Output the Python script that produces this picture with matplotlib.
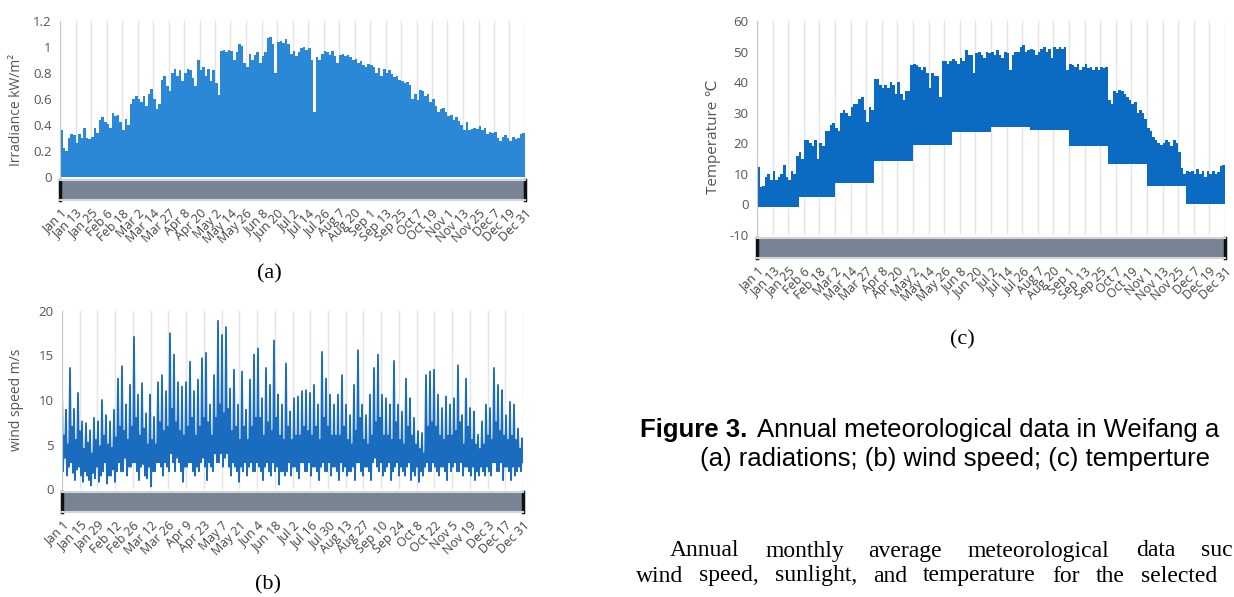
import numpy as np
import matplotlib.pyplot as plt

W, H = 1234, 597

# ---- data ----
# daily peak irradiance (kW/m2), one value every ~2 days
irradiance = [0.36, 0.22, 0.2, 0.3, 0.33, 0.32, 0.26, 0.33, 0.3, 0.38,
              0.3, 0.29, 0.31, 0.38, 0.34, 0.44, 0.46, 0.42, 0.41, 0.38,
              0.49, 0.47, 0.48, 0.42, 0.36, 0.45, 0.4, 0.56, 0.6, 0.62,
              0.6, 0.58, 0.62, 0.55, 0.64, 0.68, 0.6, 0.52, 0.56, 0.75,
              0.78, 0.7, 0.66, 0.8, 0.83, 0.78, 0.82, 0.74, 0.8, 0.83,
              0.82, 0.76, 0.7, 0.9, 0.82, 0.85, 0.78, 0.83, 0.74, 0.82,
              0.72, 0.63, 0.97, 0.98, 0.96, 0.98, 0.97, 0.9, 0.96, 1.02,
              1.01, 0.88, 0.85, 0.95, 0.9, 0.94, 0.96, 0.88, 0.93, 0.96,
              1.07, 1.08, 1.02, 0.8, 1.04, 1.05, 1.03, 1.06, 1.02, 0.95,
              0.97, 0.93, 0.96, 0.99, 1.0, 0.98, 0.99, 0.9, 0.5, 0.92,
              0.9, 0.95, 0.97, 0.96, 0.94, 0.97, 0.93, 0.88, 0.94, 0.95,
              0.93, 0.94, 0.92, 0.9, 0.91, 0.88, 0.89, 0.86, 0.85, 0.87,
              0.86, 0.85, 0.8, 0.84, 0.78, 0.83, 0.8, 0.82, 0.79, 0.77,
              0.78, 0.75, 0.74, 0.72, 0.73, 0.71, 0.6, 0.64, 0.59, 0.67,
              0.66, 0.62, 0.64, 0.58, 0.6, 0.55, 0.5, 0.52, 0.53, 0.5,
              0.47, 0.48, 0.44, 0.46, 0.43, 0.4, 0.36, 0.42, 0.36, 0.37,
              0.38, 0.37, 0.39, 0.36, 0.38, 0.33, 0.35, 0.34, 0.35, 0.3,
              0.28, 0.31, 0.32, 0.3, 0.28, 0.31, 0.29, 0.3, 0.33, 0.34]

# wind speed (m/s), gusts and lulls in order through the year
wind = [11.3, 2, 6, 3.5, 8.9, 1.5, 5, 2.5, 13.6, 3, 7, 1.8, 9, 1, 5.5, 2.2,
        10.8, 2.5, 6.5, 1.5, 7.6, 0.8, 4.5, 2, 7.4, 1.5, 5.2, 1, 6.6, 0.4, 4, 1.8,
        8, 1.2, 5.5, 2.5, 7.6, 0.8, 4.8, 1.5, 10, 2, 6, 3, 8.3, 0.6, 5, 1.5,
        7.6, 1.5, 4.6, 2.2, 8.9, 0.8, 5.8, 2,
        12.4, 3, 7, 2, 13.8, 2, 6.5, 3.5, 9.5, 1.5, 5.5, 2.5, 11.7, 2.5, 7, 3,
        17.1, 3, 8, 2, 10.6, 1, 6, 2.5, 11.9, 2.8, 6.8, 1.5, 8.5, 1.2, 5, 2.5,
        10.6, 0.3, 5.5, 2, 8.1, 2, 5, 3, 12, 3, 7.5, 2.5, 12.8, 1.5, 6.5, 3,
        11, 2.5, 7, 2, 17.5, 4, 9, 3, 15.1, 2, 7.5, 3.5, 12, 3, 6.5, 2,
        11.5, 0.8, 6, 2.5, 12, 2.5, 7, 3, 14.3, 3, 8, 2, 11, 1.5, 6, 2.5,
        12.3, 2, 7, 3, 14.7, 3.5, 8, 2.5, 15.3, 1, 7.5, 3, 9.5, 2.5, 6, 2,
        12.8, 4, 8, 3, 18.9, 3, 9.5, 4, 17.3, 2.5, 8.5, 3.5, 18.2, 4, 9, 2.5,
        11.3, 1.5, 6.5, 3, 13.4, 2.5, 7, 2, 9.5, 0.8, 5.5, 2.5,
        13.2, 2, 7, 3, 8.9, 1.5, 5.5, 2.5, 12.3, 3, 7, 2, 15.1, 2, 8, 3,
        15.8, 2.5, 8, 2, 10.2, 1, 6, 2.5, 13.6, 3, 7.5, 2, 11.7, 1.5, 6.5, 3,
        16.7, 2, 8, 2.5, 10.6, 0.5, 6, 2, 9.5, 2, 5.5, 1.5,
        14.1, 2, 7, 3, 8.7, 1.5, 5.5, 2.5, 10.2, 2.5, 6, 2, 10.4, 1.2, 6, 3,
        11, 3, 7, 2, 11.1, 2, 6.5, 3, 10.8, 1.5, 6, 2.5, 11.7, 2.5, 7, 2,
        9.5, 1, 5.5, 2.5, 15.4, 3, 8, 2, 12.4, 2, 7, 3, 10.6, 1.5, 6, 2.5,
        9.5, 2.5, 6, 2, 10.6, 1, 6, 3, 12.8, 2, 7, 2.5, 9.5, 1.5, 5.5, 2,
        8.3, 2, 5, 2.5, 11.7, 1, 6.5, 3, 15.6, 3, 8, 2, 9.5, 1.5, 5.5, 2.5,
        8.3, 2.5, 5, 2, 10.6, 1, 6, 3, 13.6, 3.5, 7.5, 2.5, 15.1, 2, 8, 3,
        10.6, 1.5, 6, 2, 10.2, 2.5, 6, 3, 9.5, 1, 5.5, 2, 14.4, 2.5, 7.5, 3,
        9.5, 1.5, 5.5, 2.5, 8.7, 2, 5, 1.5, 12.4, 2.5, 7, 3, 10.2, 1, 6, 2,
        8, 1.5, 5, 2.5,
        6.5, 0.8, 4.5, 2, 6.3, 1.5, 4, 2.5, 12.8, 3, 7, 2, 13.2, 2, 7.5, 3,
        13.4, 2.5, 7, 2, 10.6, 1.5, 6, 2.5, 9.1, 2.5, 5.5, 2, 10.4, 1, 6, 3,
        9.5, 2, 6, 2.5, 10.2, 3, 6.5, 2, 13.9, 2, 7.5, 3, 8.3, 1.5, 5, 2.5,
        12.4, 2.5, 7, 2, 9.1, 1.5, 5.5, 2.5, 8.7, 1, 5, 2,
        6.1, 1.5, 4.5, 2.5, 7.6, 2, 5, 1.5, 9.5, 2.5, 6, 2, 9.1, 1.5, 5.5, 3,
        13.6, 3, 7.5, 2, 11.7, 2, 6.5, 3, 11.1, 1, 6, 2.5, 8.3, 2.5, 5.5, 2,
        9.8, 1, 6, 2.5, 9.5, 1.5, 5.5, 2, 6.8, 2.5, 4.5, 2, 5.7, 3]

# daily high temperature, one value every ~2 days
temp_high = [12.3, 5.8, 6, 9, 10, 8, 11, 8, 9, 10,
             13, 9, 8, 11, 10, 16, 17, 15, 21, 21,
             20, 19, 21, 15, 20, 19, 24, 24, 26, 26.5,
             25, 24, 30, 31, 30, 29, 32, 33, 33, 34.5,
             35, 31, 27, 32, 31, 41, 41, 39, 38, 39,
             38, 40, 39, 36, 40, 36, 34, 37, 37, 45.5,
             46, 45.5, 45, 44, 45, 43, 38, 43, 42, 42,
             35, 47, 47, 46, 47, 47.5, 47, 46, 48, 47,
             50.5, 49, 49, 43, 49.5, 50, 49, 48, 50, 49.5,
             50, 49, 50.5, 49, 48, 50, 49.5, 44, 49, 50,
             50, 51.5, 52, 50, 50.5, 51, 50.5, 49, 50, 51,
             51.5, 50, 51, 48, 51.5, 51, 51.5, 51, 51.5, 44,
             46, 45.5, 45, 46, 44, 45, 46, 44.5, 45, 44,
             45, 44, 45, 44.5, 45, 34, 33, 37, 36.5, 37.5,
             37, 36, 35, 34, 33, 33.5, 30, 31, 30, 28,
             25, 24, 22, 21, 20, 19.5, 20, 21, 20.5, 19,
             21, 20, 17, 12, 10, 11, 10.5, 11, 10, 11.5,
             10, 11, 9, 11, 10, 11, 10, 10.5, 12.5, 13]
# monthly low temperature
month_days = [31, 28, 31, 30, 31, 30, 31, 31, 30, 31, 30, 31]
temp_low = [-1.0, 2.3, 7.1, 14.3, 19.4, 23.7, 25.4, 24.5, 19.2, 13.1, 6.1, 0.3]

labels_ac = ['Jan 1', 'Jan 13', 'Jan 25', 'Feb 6', 'Feb 18', 'Mar 2', 'Mar 14',
             'Mar 27', 'Apr 8', 'Apr 20', 'May 2', 'May 14', 'May 26', 'Jun 8',
             'Jun 20', 'Jul 2', 'Jul 14', 'Jul 26', 'Aug 7', 'Aug 20', 'Sep 1',
             'Sep 13', 'Sep 25', 'Oct 7', 'Oct 19', 'Nov 1', 'Nov 13', 'Nov 25',
             'Dec 7', 'Dec 19', 'Dec 31']
labels_b = ['Jan 1', 'Jan 15', 'Jan 29', 'Feb 12', 'Feb 26', 'Mar 12', 'Mar 26',
            'Apr 9', 'Apr 23', 'May 7', 'May 21', 'Jun 4', 'Jun 18', 'Jul 2',
            'Jul 16', 'Jul 30', 'Aug 13', 'Aug 27', 'Sep 10', 'Sep 24', 'Oct 8',
            'Oct 22', 'Nov 5', 'Nov 19', 'Dec 3', 'Dec 17', 'Dec 31']

NDAYS = 365
plt.rcParams['font.family'] = ['Open Sans', 'DejaVu Sans']

fig = plt.figure(figsize=(W / 100, H / 100), dpi=100)


def rect(l, t, r, b):
    return [l / W, 1 - b / H, (r - l) / W, (b - t) / H]


def main_axes(box, ylim, yticks, ylabel, labelx, labely, ticklabels, lsize=10):
    ax = fig.add_axes(rect(*box))
    ax.set_xlim(0, NDAYS)
    ax.set_ylim(*ylim)
    ax.set_yticks(yticks)
    ax.set_yticklabels([('%g' % v) for v in yticks], color='#555555', fontsize=9.5)
    ax.tick_params(axis='y', length=0, pad=6)
    ticks = np.linspace(0, NDAYS, len(ticklabels))
    ax.set_xticks(ticks)
    ax.set_xticklabels([])
    ax.tick_params(axis='x', length=0)
    ax.grid(axis='x', color='#e4e4e4', lw=1)
    ax.set_axisbelow(True)
    for s in ['top', 'right', 'bottom']:
        ax.spines[s].set_visible(False)
    ax.spines['left'].set_color('#c8c8c8')
    fig.text(labelx / W, 1 - labely / H, ylabel, rotation=90,
             ha='center', va='center', fontsize=lsize, color='#555555')
    # navigator bar under the plot
    l, t, r, b = box
    nav = fig.add_axes(rect(l, b + 3, r, b + 23))
    nav.set_xlim(0, NDAYS)
    nav.set_ylim(0, 1)
    nav.set_facecolor('#788493')
    nav.set_yticks([])
    nav.set_xticks(ticks)
    nav.set_xticklabels(ticklabels, rotation=45, ha='right', rotation_mode='anchor',
                        fontsize=9, color='#444444')
    nav.tick_params(axis='x', length=0, pad=5)
    for s in ['top', 'bottom']:
        nav.spines[s].set_color('#d0d6dc')
        nav.spines[s].set_linewidth(1.5)
    for s in ['left', 'right']:
        nav.spines[s].set_color('#111111')
        nav.spines[s].set_linewidth(2.5)
    return ax


# (a) irradiance
ax_a = main_axes((60, 21, 525, 177), (0, 1.2), [0, 0.2, 0.4, 0.6, 0.8, 1, 1.2],
                 'Irradiance kW/m²', 17, 110, labels_ac)
xa = np.linspace(0, NDAYS, len(irradiance) + 1)
ax_a.fill_between(xa, np.append(irradiance, irradiance[-1]), step='post',
                  color='#2a88d6', lw=0)

# (b) wind speed
ax_b = main_axes((62, 311, 523, 489), (0, 20), [0, 5, 10, 15, 20],
                 'wind speed m/s', 17, 400, labels_b)
xb = np.linspace(0, NDAYS, len(wind))
ax_b.plot(xb, wind, color='#1a6cbe', lw=1.3)

# (c) temperature
ax_c = main_axes((757, 21, 1225, 235), (-10, 60), [-10, 0, 10, 20, 30, 40, 50, 60],
                 'Temperature ℃', 713, 137, labels_ac, lsize=11)
xc = np.linspace(0, NDAYS, len(temp_high) + 1)
month_idx = np.searchsorted(np.cumsum(month_days), xc[:-1] + 1e-6, side='right')
low = np.array(temp_low)[np.clip(month_idx, 0, 11)]
ax_c.fill_between(xc, np.append(low, low[-1]), np.append(temp_high, temp_high[-1]),
                  step='post', color='#0b6bc2', lw=0)

# panel letters
for x, y, s in [(269, 274, '(a)'), (268, 585, '(b)'), (962, 340, '(c)')]:
    fig.text(x / W, 1 - y / H, s, ha='center', va='center', fontsize=16,
             family='Liberation Serif')

# caption and body text
fig.text(640 / W, 1 - 430 / H, 'Figure 3.', fontsize=18.5, fontweight='bold',
         family='Liberation Sans', va='center')
fig.text(757 / W, 1 - 430 / H, 'Annual meteorological data in Weifang a', fontsize=18.5,
         family='Liberation Sans', va='center')
fig.text(700 / W, 1 - 459 / H, '(a) radiations; (b) wind speed; (c) temperture',
         fontsize=18.5, family='Liberation Sans', va='center')

# justified paragraph, word by word
line1 = [(670, 'Annual'), (765, 'monthly'), (868, 'average'), (968, 'meteorological'),
         (1136, 'data'), (1201, 'suc')]
line2 = [(636, 'wind'), (699, 'speed,'), (775, 'sunlight,'), (873, 'and'),
         (923, 'temperature'), (1052, 'for'), (1096, 'the'), (1141, 'selected')]
for y, words in [(551, line1), (576, line2)]:
    for x, w in words:
        fig.text(x / W, 1 - y / H, w, fontsize=17, family='Liberation Serif', va='center')

fig.savefig('out.png', dpi=100)
